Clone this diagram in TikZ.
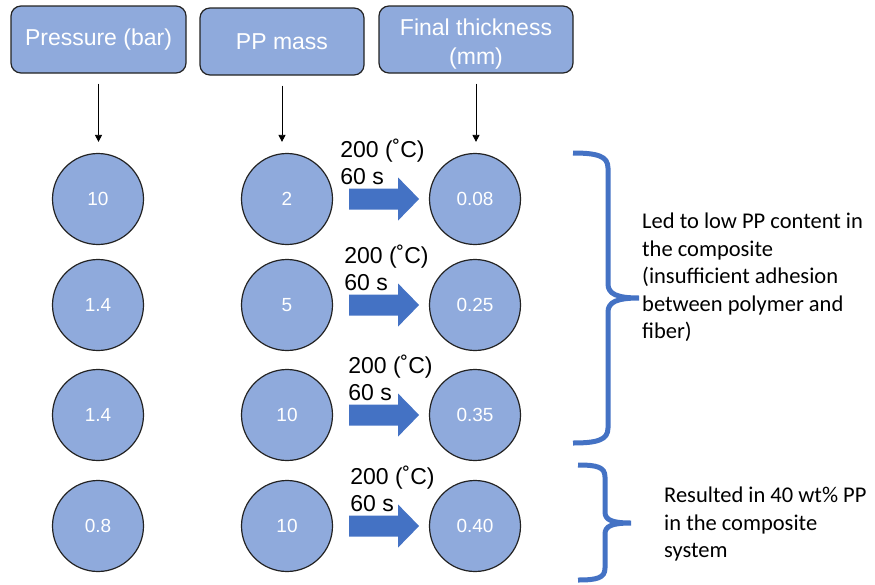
\documentclass[tikz,border=0pt]{standalone}
\usepackage{fontspec}
\setmainfont{Liberation Sans}
\newfontfamily\notefont{Carlito}
\usepackage{tikz}
\usetikzlibrary{positioning,arrows.meta,calc}
\definecolor{softblue}{RGB}{143,170,220}
\definecolor{accent}{RGB}{68,114,196}
\definecolor{edge}{RGB}{35,35,35}
\tikzset{
  hdr/.style  ={draw=edge, fill=softblue, rounded corners=10pt, align=center, text=white,
                font=\fontsize{23}{29}\selectfont, line width=1.2pt, minimum height=67pt, inner sep=2pt},
  val/.style  ={circle, draw=edge, fill=softblue, text=white, line width=1.2pt,
                font=\fontsize{19}{22}\selectfont, minimum size=91pt, inner sep=0pt},
  ar/.style   ={-{Triangle[length=7pt,width=7pt]}, draw=black, line width=0.8pt,
                shorten <=10pt, shorten >=11pt},
  cond/.style ={font=\fontsize{23}{27}\selectfont, align=left, inner sep=0pt, anchor=north west},
  brace/.style={draw=accent, line width=5pt},
  note/.style ={font=\notefont\fontsize{22.5}{27.5}\selectfont, align=left, inner sep=0pt,
                anchor=north west},
}
\begin{document}
\begin{tikzpicture}[x=1pt,y=-1pt]
\useasboundingbox (0,0) rectangle (875,584);

% column headers
\node[hdr,minimum width=175pt] (hP) at (98.5,39.5) {Pressure (bar)};
\node[hdr,minimum width=164pt] (hM) at (282,41.5)  {PP mass};
\node[hdr,minimum width=194pt] (hT) at (476,39.5)  {\rule{0pt}{26pt}Final thickness\\(mm)};

% trials
\foreach \r/\yy/\p/\m/\t/\dx in {1/199/10/2/0.08/7, 2/305/1.4/5/0.25/11,
                                 3/415/1.4/10/0.35/15, 4/526/0.8/10/0.40/17}{
  \node[val] (p\r) at (98,\yy)  {\p};
  \node[val] (m\r) at (287,\yy) {\m};
  \node[val] (t\r) at (475,\yy) {\t};
  \fill[accent] ($(m\r.east)+(16,-10.5)$) -- ++(49,0) -- ++(0,-11) -- ++(21,21.5)
     -- ++(-21,21.5) -- ++(0,-11) -- ++(-49,0) -- cycle;
  \node[cond] (c\r) at ($(m\r.east)+(\dx,-60)$) {200 (˚C)\\60 s};
}

\draw[ar] (hP.south) -- (hP.south |- p1.north);
\draw[ar] (hM.south) -- (hM.south |- m1.north);
\draw[ar] (hT.south) -- (hT.south |- t1.north);

% braces
\draw[brace] (573,153) .. controls (597,153) and (608,156) .. (608,168) -- (608,284)
   .. controls (608,294) and (617,298) .. (639,298)
   .. controls (617,298) and (608,302) .. (608,312) -- (608,428)
   .. controls (608,440) and (597,443) .. (573,443);
\draw[brace] (578,465) .. controls (597,465) and (605,467) .. (605,477) -- (605,512)
   .. controls (605,520) and (612,523) .. (631,523)
   .. controls (612,523) and (605,526) .. (605,534) -- (605,568)
   .. controls (605,578) and (597,580) .. (578,580);

% outcomes
\node[note] (n1) at (642,213) {Led to low PP content in\\the composite\\(insufficient adhesion\\between polymer and\\fiber)};
\node[note] (n2) at (664,487) {Resulted in 40 wt\% PP\\in the composite\\system};
\end{tikzpicture}
\end{document}
